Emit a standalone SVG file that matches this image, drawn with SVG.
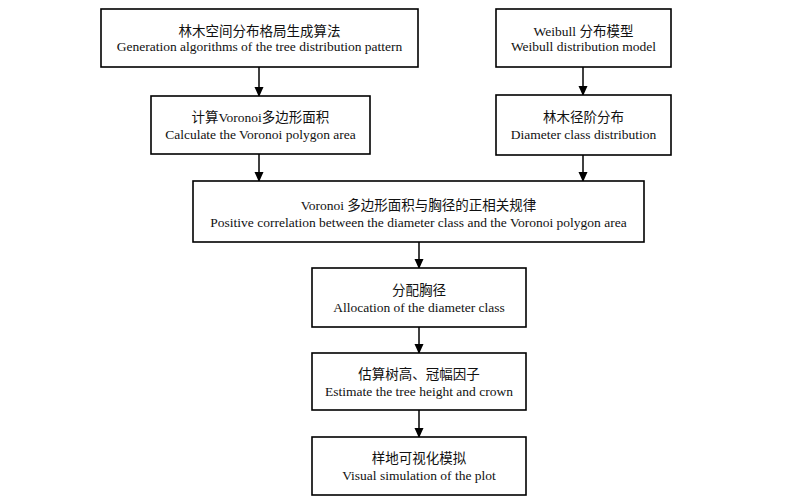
<svg xmlns="http://www.w3.org/2000/svg" width="796" height="504" viewBox="0 0 796 504">
<style>
.box{fill:#fff;stroke:#000;stroke-width:1.6}
.zh{font-family:"Liberation Serif","Noto Sans CJK SC",serif;font-size:13.5px;fill:#111;text-anchor:middle}
.en{font-family:"Liberation Serif",serif;font-size:13.5px;fill:#111;text-anchor:middle}
.ln{stroke:#000;stroke-width:1.5;fill:none}
</style>
<defs>
<marker id="ah" markerWidth="10" markerHeight="11" refX="9" refY="5" orient="auto" markerUnits="userSpaceOnUse">
<path d="M0,0.5 L10,5 L0,9.5 Z" fill="#000"/>
</marker>
</defs>
<rect width="796" height="504" fill="#fff"/>
<g id="connectors">
<line class="ln" x1="259" y1="67" x2="259" y2="96" marker-end="url(#ah)"/>
<line class="ln" x1="583" y1="67" x2="583" y2="95" marker-end="url(#ah)"/>
<line class="ln" x1="259" y1="154" x2="259" y2="181" marker-end="url(#ah)"/>
<line class="ln" x1="583" y1="155" x2="583" y2="181" marker-end="url(#ah)"/>
<line class="ln" x1="419" y1="242" x2="419" y2="268" marker-end="url(#ah)"/>
<line class="ln" x1="419" y1="327" x2="419" y2="353" marker-end="url(#ah)"/>
<line class="ln" x1="419" y1="410" x2="419" y2="437" marker-end="url(#ah)"/>
</g>
<g id="n1">
<rect class="box" x="101" y="9" width="317" height="58"/>
<text class="zh" x="259.5" y="35.5">林木空间分布格局生成算法</text>
<text class="en" x="259.5" y="51">Generation algorithms of the tree distribution pattern</text>
</g>
<g id="n2">
<rect class="box" x="496" y="9" width="175" height="58"/>
<text class="zh" x="583.5" y="35.5">Weibull 分布模型</text>
<text class="en" x="583.5" y="51">Weibull distribution model</text>
</g>
<g id="n3">
<rect class="box" x="151" y="96" width="219" height="58"/>
<text class="zh" x="260.5" y="122">计算Voronoi多边形面积</text>
<text class="en" x="260.5" y="139">Calculate the Voronoi polygon area</text>
</g>
<g id="n4">
<rect class="box" x="496" y="95" width="175" height="60"/>
<text class="zh" x="583.5" y="122">林木径阶分布</text>
<text class="en" x="583.5" y="139">Diameter class distribution</text>
</g>
<g id="n5">
<rect class="box" x="193" y="181" width="451" height="61"/>
<text class="zh" x="418.5" y="210">Voronoi 多边形面积与胸径的正相关规律</text>
<text class="en" x="418.5" y="227">Positive correlation between the diameter class and the Voronoi polygon area</text>
</g>
<g id="n6">
<rect class="box" x="312" y="268" width="214" height="59"/>
<text class="zh" x="419" y="295">分配胸径</text>
<text class="en" x="419" y="312">Allocation of the diameter class</text>
</g>
<g id="n7">
<rect class="box" x="312" y="353" width="214" height="57"/>
<text class="zh" x="419" y="379">估算树高、冠幅因子</text>
<text class="en" x="419" y="396">Estimate the tree height and crown</text>
</g>
<g id="n8">
<rect class="box" x="312" y="437" width="214" height="58"/>
<text class="zh" x="419" y="463">样地可视化模拟</text>
<text class="en" x="419" y="480">Visual simulation of the plot</text>
</g>
</svg>
